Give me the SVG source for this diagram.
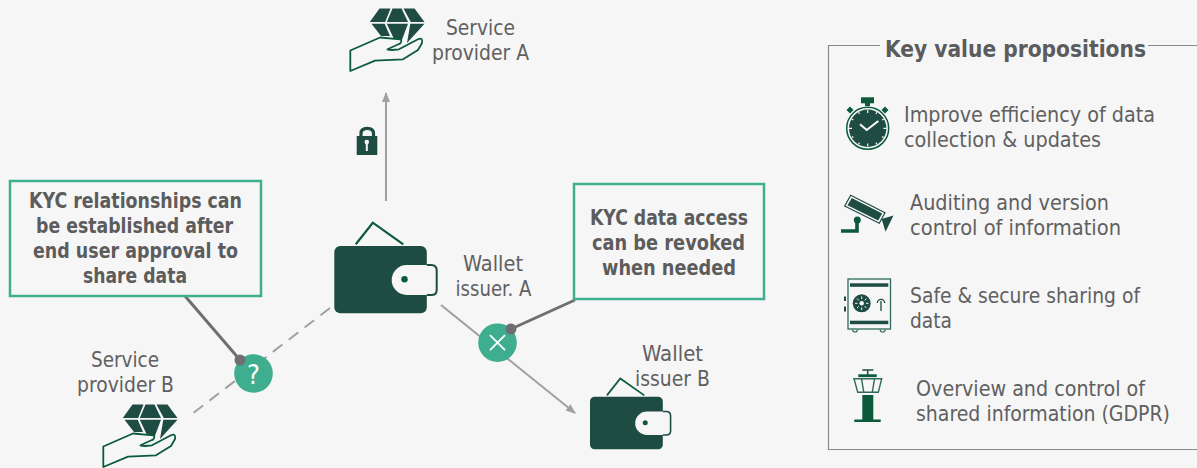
<svg xmlns="http://www.w3.org/2000/svg" xmlns:xlink="http://www.w3.org/1999/xlink" width="1197" height="468" viewBox="0 0 1197 468">
<style>
text{font-family:"DejaVu Sans Condensed","DejaVu Sans",sans-serif;font-size:21px;fill:#606060}
.m{text-anchor:middle}
.b{font-weight:700;fill:#5c5c5c}
.d{fill:#1e4c43}
.e{fill:#0b5a3c}
.g{fill:none;stroke:#0b5a3c;stroke-width:2.200}
.box{fill:#f6f6f6;stroke:#3fae8f;stroke-width:2.500}
.c{fill:#3fae8f}
.link{fill:none;stroke:#a0a0a0;stroke-width:2}
.lead{fill:none;stroke:#6f6f73;stroke-width:3}
.dot{fill:#6f6f73}
.w{fill:none;stroke:#f6f6f6}
</style>
<defs>
<marker id="ah" markerUnits="userSpaceOnUse" markerWidth="12" markerHeight="10" refX="9" refY="4" orient="auto"><path d="M0 0L10 4L0 8z" fill="#a0a0a0"/></marker>
<g id="gem">
<path class="d" d="M132.500 404.500L143.500 404.500L138.200 418L122.800 418ZM145.500 404.500L154.500 404.500L161 418L139.800 418ZM156.500 404.500L167.500 404.500L177.500 418L163.800 418ZM124.500 419.800L137.700 419.800L143 432L134 432ZM139.800 419.800L161 419.800L153 441L147 435ZM163.300 419.800L177.500 419.800L160 439Z"/>
<path d="M103.300 446.500L133 433.500L153.300 435.300Q155.500 437 153 439.500L141 445Q139 446 145 446L152 445.300L171 435.300Q176 433 175 439L171 446L156 455.300L128 456.700L103.300 467Z" fill="#f6f6f6" stroke="#0b5a3c" stroke-width="1.800" stroke-linejoin="round"/>
</g>
<g id="wallet">
<rect class="d" x="0" y="0" width="92.500" height="67.300" rx="6"/>
<path class="g" d="M21.500 -1.700L38.500 -23.300L69 -1.700"/>
<path d="M72.400 19H101V49H72.400A15 15 0 0 1 72.400 19Z" fill="#f6f6f6"/>
<path d="M92.500 19H97Q102.400 19 102.400 24.500V44Q102.400 49 97 49H92.500" fill="none" stroke="#1e4c43" stroke-width="2"/>
<circle cx="70.200" cy="33.300" r="3.200" class="e"/>
</g>
</defs>
<rect width="1197" height="468" fill="#f6f6f6"/>
<g id="connectors">
<path class="link" d="M386 201V93" marker-end="url(#ah)"/>
<path class="link" d="M330 308L192 414" stroke-dasharray="12 8"/>
<path class="link" d="M441 305L575 413" marker-end="url(#ah)"/>
<path class="lead" d="M185 296L240 360"/>
<path class="lead" d="M575 300L511 329"/>
</g>
<g id="service-provider-a">
<use xlink:href="#gem" href="#gem" transform="translate(247 -396)"/>
<text class="m" x="480.500" y="35" textLength="69" lengthAdjust="spacingAndGlyphs">Service</text>
<text class="m" x="480.500" y="60" textLength="97" lengthAdjust="spacingAndGlyphs">provider A</text>
</g>
<g id="lock">
<rect class="d" x="356.700" y="136" width="20.600" height="19"/>
<path d="M361 137V133.500Q361 128.300 367.200 128.300Q373.500 128.300 373.500 133.500V137" fill="none" stroke="#1e4c43" stroke-width="3.200"/>
<circle cx="366.800" cy="142" r="2.300" fill="#f6f6f6"/><rect x="365.800" y="143" width="2" height="8" fill="#f6f6f6"/>
</g>
<g id="wallet-a">
<use xlink:href="#wallet" href="#wallet" transform="translate(334.300 246)"/>
<text class="m" x="493" y="271" textLength="60" lengthAdjust="spacingAndGlyphs">Wallet</text>
<text class="m" x="493.500" y="296" textLength="76" lengthAdjust="spacingAndGlyphs">issuer. A</text>
</g>
<g id="wallet-b">
<text class="m" x="672.500" y="361" textLength="61" lengthAdjust="spacingAndGlyphs">Wallet</text>
<text class="m" x="672.500" y="386" textLength="75" lengthAdjust="spacingAndGlyphs">issuer B</text>
<use xlink:href="#wallet" href="#wallet" transform="translate(590 396.700) scale(.787 .782)"/>
</g>
<g id="service-provider-b">
<text class="m" x="125" y="367" textLength="68" lengthAdjust="spacingAndGlyphs">Service</text>
<text class="m" x="125.500" y="392" textLength="97" lengthAdjust="spacingAndGlyphs">provider B</text>
<use xlink:href="#gem" href="#gem"/>
</g>
<g id="callout-left">
<rect class="box" x="10" y="181" width="251" height="115"/>
<text class="m b" x="135.500" y="208" textLength="213" lengthAdjust="spacingAndGlyphs">KYC relationships can</text>
<text class="m b" x="134.500" y="233" textLength="197" lengthAdjust="spacingAndGlyphs">be established after</text>
<text class="m b" x="135.500" y="258" textLength="205" lengthAdjust="spacingAndGlyphs">end user approval to</text>
<text class="m b" x="135" y="283" textLength="104" lengthAdjust="spacingAndGlyphs">share data</text>
</g>
<g id="callout-right">
<rect class="box" x="574" y="184" width="190" height="115"/>
<text class="m b" x="669" y="225" textLength="158" lengthAdjust="spacingAndGlyphs">KYC data access</text>
<text class="m b" x="668.500" y="250" textLength="153" lengthAdjust="spacingAndGlyphs">can be revoked</text>
<text class="m b" x="669" y="275" textLength="134" lengthAdjust="spacingAndGlyphs">when needed</text>
</g>
<g id="question">
<circle class="c" cx="253.500" cy="373.500" r="19.300"/>
<circle class="dot" cx="240" cy="360" r="5.500"/>
<text class="m" x="253.500" y="383.500" style="fill:#fff;font-size:27px">?</text>
</g>
<g id="revoked">
<circle class="c" cx="497.500" cy="342.700" r="19.300"/>
<circle class="dot" cx="511" cy="329" r="5.500"/>
<path d="M490 335.200L505 350.200M505 335.200L490 350.200" stroke="#fff" stroke-width="1.800" fill="none"/>
</g>
<g id="panel">
<path d="M880 45.500H828.500V449.500H1197M1148 45.500H1197" fill="none" stroke="#8a8a8a" stroke-width="1.200"/>
<text x="885" y="57" class="b" style="font-size:23px" textLength="261" lengthAdjust="spacingAndGlyphs">Key value propositions</text>
</g>
<g id="vp-1">
<rect class="e" x="861" y="97.300" width="13" height="6"/><rect class="e" x="865" y="103" width="5" height="3"/>
<path class="e" d="M846.500 110L850 106.500L853.500 110L850 113.500ZM881.500 110L885 106.500L888.500 110L885 113.500Z"/>
<circle cx="867.700" cy="128.300" r="21" fill="none" stroke="#0b5a3c" stroke-width="1.500"/>
<circle class="d" cx="867.700" cy="128.300" r="18.700"/>
<path d="M867.700 110V113M867.700 143.600V146.600M849 128.300H852M883.400 128.300H886.400M858.500 112.300L859.500 114M875.900 142.600L876.900 144.300M851.700 119L853.400 120M882 136.600L883.700 137.500M876.900 112.300L875.900 114M859.500 142.600L858.500 144.300M883.700 119L882 120M853.400 136.600L851.700 137.500" class="w" stroke-width="1.200"/>
<path d="M860 124.300L866.700 130L878.300 121" fill="none" stroke="#fff" stroke-width="2"/>
<text x="904" y="122" textLength="251" lengthAdjust="spacingAndGlyphs">Improve efficiency of data</text>
<text x="904" y="147" textLength="197" lengthAdjust="spacingAndGlyphs">collection &amp; updates</text>
</g>
<g id="vp-2">
<path d="M850.700 195.300L885 212.700L879.300 223.300L844.700 206Z" fill="none" stroke="#1e4c43" stroke-width="1.200"/>
<path class="d" d="M851.800 198L882.200 213.400L878.200 220.600L847.500 205.300Z"/>
<path class="d" d="M881.700 219L893.500 215.500L885.500 231.700Z"/>
<circle cx="857.300" cy="220" r="3.500" class="e"/>
<path d="M857 223V231H841" fill="none" stroke="#0b5a3c" stroke-width="3.600"/>
<text x="910" y="210" textLength="199" lengthAdjust="spacingAndGlyphs">Auditing and version</text>
<text x="910" y="235" textLength="211" lengthAdjust="spacingAndGlyphs">control of information</text>
</g>
<g id="vp-3">
<rect x="848" y="279" width="42.500" height="50" fill="none" stroke="#2e6a5a" stroke-width="1.300"/>
<rect class="d" x="850" y="283.300" width="38.300" height="3.500"/><rect class="d" x="850" y="320.700" width="38.300" height="3.500"/>
<circle class="d" cx="861.700" cy="303.300" r="9"/><circle cx="861.700" cy="303.300" r="2.200" fill="#f6f6f6"/>
<path d="M861.700 296.500V299M861.700 307.500V310M855 303.300H857.500M866 303.300H868.500M857 298.600L858.700 300.300M864.700 306.300L866.400 308M866.400 298.600L864.700 300.300M858.700 306.300L857 308" class="w" stroke-width="1"/>
<path d="M881 311V301M877.300 303A3.600 3.600 0 1 1 884.700 303" fill="none" stroke="#1e4c43" stroke-width="1.300"/>
<path d="M845 296.500V301M845 306.500V311.500" stroke="#1e4c43" stroke-width="2" fill="none"/>
<path d="M852.500 329.500A2.500 2.500 0 0 0 857.500 329.500M880.200 329.500A2.500 2.500 0 0 0 885.200 329.500" fill="none" stroke="#2e6a5a" stroke-width="1.200"/>
<text x="910" y="303" textLength="230" lengthAdjust="spacingAndGlyphs">Safe &amp; secure sharing of</text>
<text x="910" y="328" textLength="42" lengthAdjust="spacingAndGlyphs">data</text>
</g>
<g id="vp-4">
<path d="M862.300 370H873.300M867.700 370V375" stroke="#1e4c43" stroke-width="1.500" fill="none"/>
<rect x="858.300" y="374.300" width="18.400" height="2.800" class="e"/>
<path d="M854 378.700H881.700L878.300 392.300H857.700Z M861.500 378.700L863.800 392.300M874.500 378.700L872.300 392.300" fill="none" stroke="#2e6a5a" stroke-width="1.400"/>
<rect x="862.300" y="395" width="11" height="25" class="e"/>
<rect x="854.300" y="419.500" width="26.400" height="2.500" class="e"/>
<text x="916" y="396" textLength="229" lengthAdjust="spacingAndGlyphs">Overview and control of</text>
<text x="916" y="421" textLength="254" lengthAdjust="spacingAndGlyphs">shared information (GDPR)</text>
</g>
</svg>
